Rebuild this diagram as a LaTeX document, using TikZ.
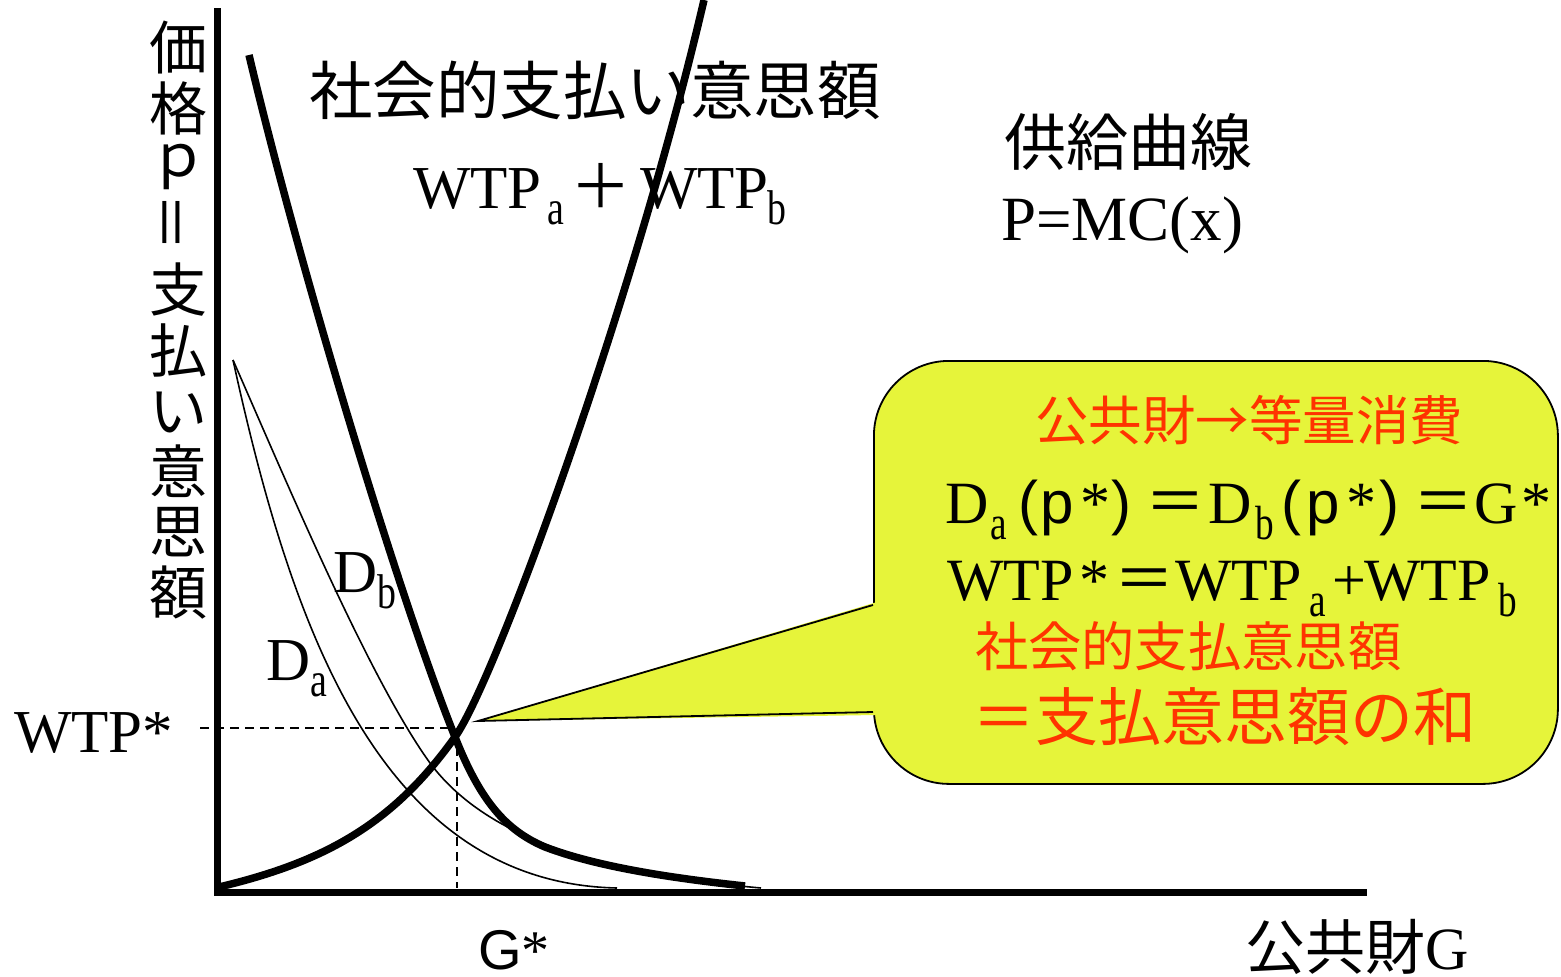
\documentclass[tikz,border=0pt]{standalone}
\usepackage{fontspec}
\usepackage{graphicx}
\setmainfont{Liberation Serif}
\newfontfamily\jp{Noto Sans CJK JP}
\newfontfamily\ar{Liberation Sans}
\definecolor{callyellow}{RGB}{230,244,58}
\definecolor{callred}{RGB}{255,51,0}
\newcommand\sbs[1]{\raisebox{-0.27em}{\scalebox{0.62}[0.8]{#1}}}
\newcommand\fs[1]{\fontsize{#1}{#1}\selectfont}
\newcommand\putat[2]{\makebox[0pt][l]{\hspace*{#1pt}#2}}
\begin{document}
\begin{tikzpicture}[x=1pt,y=-1pt,
  lbl/.style={inner sep=0pt, outer sep=0pt},
  axisline/.style={line width=7pt, line join=miter},
  thickcurve/.style={line width=7.5pt, line join=round},
  thincurve/.style={line width=1.6pt},
  guide/.style={line width=1.8pt, dash pattern=on 9pt off 6pt},
  boxline/.style={line width=1.8pt},
]
\useasboundingbox (0,0) rectangle (1561,977);

% axes
\coordinate (Ytop) at (217,8);
\coordinate (O) at (217,892);
\coordinate (Xend) at (1367,892);
\draw[axisline] (Ytop) -- (O) -- (Xend);

% individual demand curves (thin)
\coordinate (dstart) at (233,360);
\coordinate (daend) at (617,888);
\coordinate (dbend) at (761,888);
\draw[thincurve] (dstart) .. controls (290,620) and (377,883) .. (daend);
\draw[thincurve] (dstart) .. controls (290,490) and (370,680) .. (430,763)
                 .. controls (480,830) and (580,872) .. (dbend);

% supply curve
\coordinate (sstart) at (219,887);
\coordinate (E) at (455,737);
\coordinate (send) at (704,0);
\draw[thickcurve] (sstart) .. controls (329,861) and (395,821) .. (E)
                  .. controls (495,681) and (634,301) .. (send);
% social demand (sum)
\coordinate (Dtop) at (249,55);
\coordinate (Dend) at (745,886);
\draw[thickcurve] (Dtop) .. controls (300,270) and (400,600) .. (E)
                  .. controls (480,800) and (505,830) .. (545,847)
                  .. controls (600,868) and (680,879) .. (Dend);

% equilibrium guides
\coordinate (wtpL) at (200,728);
\coordinate (wtpR) at (450,728);
\coordinate (gTop) at (457,747);
\coordinate (gBot) at (457,888);
\draw[guide] (wtpL) -- (wtpR);
\draw[guide] (gTop) -- (gBot);

% callout
\node[draw, boxline, fill=callyellow, rounded corners=75pt, minimum width=684pt, minimum height=423pt, inner sep=0pt, anchor=north west] (box) at (873,360) {};
\coordinate (tip) at (478,721);
\coordinate (pu) at (873,605);
\coordinate (pl) at (873,712);
\fill[callyellow] (877,602) -- (tip) -- (877,715) -- cycle;
\draw[boxline, line join=miter] (pu) -- (tip) -- (pl);

% vertical axis label
\node[lbl, anchor=north, align=center, font=\fontsize{58}{60.5}\selectfont\jp] (vlabel) at (178,21)
  {価\\格\\\raisebox{14pt}[0pt][0pt]{ｐ}\\\rotatebox{90}{＝}\\支\\払\\い\\意\\思\\額};

% labels in plot
\node[lbl, anchor=west] (title) at (309,90) {\fs{63.5}\jp 社会的支払い意思額};
\node[lbl, anchor=base west] (wtpsum) at (413,208) {\fs{61}\putat{0}{WTP}\putat{134}{\sbs{a}}\putat{157}{\jp ＋}\putat{227}{WTP}\putat{354}{\sbs{b}}\hspace*{372pt}};
\node[lbl, anchor=west] (supply) at (1004,142) {\fs{62}\jp 供給曲線};
\node[lbl, anchor=base west] (mc) at (1001,240) {\fs{63}P=MC(x)};
\node[lbl, anchor=base west] (db) at (333,592) {\fs{61}D\sbs{b}};
\node[lbl, anchor=base west] (da) at (266,680) {\fs{61}D\sbs{a}};
\node[lbl, anchor=base west] (wtps) at (14,752) {\fs{61}WTP*};
\node[lbl, anchor=base west] (gs) at (478,969) {\fs{56}{\ar G}*};
\node[lbl, anchor=base west] (gx) at (1245,969) {\fs{60}{\jp 公共財}G};

% callout text
\node[lbl, anchor=west, text=callred] (c1) at (1035,420) {\fs{53.5}\jp 公共財→等量消費};
\node[lbl, anchor=base west] (c2) at (945,523) {\fs{60}\putat{0}{D}\putat{45}{\sbs{a}}\putat{73}{\ar(}\putat{96}{\ar p}\putat{135}{*}\putat{166}{\ar)}\putat{200}{\jp ＝}\putat{263}{D}\putat{310}{\sbs{b}}\putat{336}{\ar(}\putat{362}{\ar p}\putat{401}{*}\putat{434}{\ar)}\putat{468}{\jp ＝}\putat{529}{G}\putat{577}{*}\hspace*{602pt}};
\node[lbl, anchor=base west] (c3) at (947,600) {\fs{60}\putat{0}{WTP}\putat{133}{*}\putat{167}{\jp ＝}\putat{228}{WTP}\putat{362}{\sbs{a}}\putat{385}{+}\putat{417}{WTP}\putat{551}{\sbs{b}}\hspace*{571pt}};
\node[lbl, anchor=west, text=callred] (c4) at (975,646) {\fs{53.3}\jp 社会的支払意思額};
\node[lbl, anchor=west, text=callred] (c5) at (972,717) {\fs{63}\jp ＝支払意思額の和};
\end{tikzpicture}
\end{document}
